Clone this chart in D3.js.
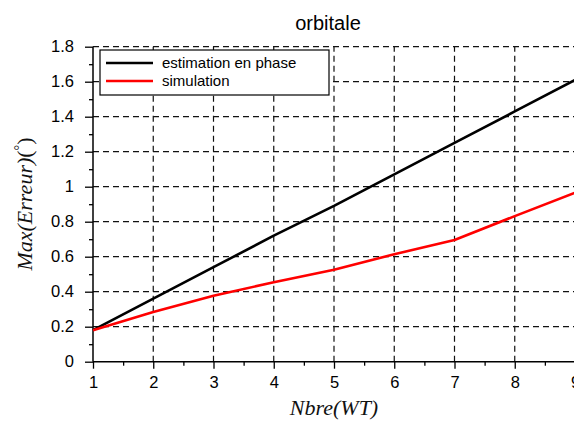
<!DOCTYPE html>
<html><head><meta charset="utf-8">
<script src="https://cdn.jsdelivr.net/npm/d3@7"></script>
<style>body{margin:0;background:#fff}svg{display:block}</style>
</head><body>
<script>
const nbre = [1, 2, 3, 4, 5, 6, 7, 8, 9];
const estimation = [0.18, 0.36, 0.54, 0.72, 0.89, 1.07, 1.25, 1.43, 1.61];
const simulation = [0.18, 0.284, 0.377, 0.454, 0.526, 0.614, 0.695, 0.832, 0.965];
const xTicks = [1, 2, 3, 4, 5, 6, 7, 8, 9];
const yTicks = [0, 0.2, 0.4, 0.6, 0.8, 1, 1.2, 1.4, 1.6, 1.8];
const yTickLabels = ["0", "0.2", "0.4", "0.6", "0.8", "1", "1.2", "1.4", "1.6", "1.8"];
const seriesNames = ["estimation en phase", "simulation"];
const seriesColors = ["#000000", "#ff0000"];

const W = 574, H = 423;
const svg = d3.select("body").append("svg").attr("width", W).attr("height", H);
const x = d3.scaleLinear().domain([1, 9]).range([93, 575]);
const y = d3.scaleLinear().domain([0, 1.8]).range([361.7, 46.7]);
const sans = "Liberation Sans, Arial, sans-serif";
const serif = "Liberation Serif, Times New Roman, serif";

// grid
const grid = svg.append("g").attr("stroke", "#111").attr("stroke-width", 1.2).attr("stroke-dasharray", "6,4");
grid.selectAll(".gx").data(xTicks.slice(1)).enter().append("line")
  .attr("x1", d => x(d)).attr("x2", d => x(d)).attr("y1", y(0)).attr("y2", y(1.8));
grid.selectAll(".gy").data(yTicks.slice(1)).enter().append("line")
  .attr("y1", d => y(d)).attr("y2", d => y(d)).attr("x1", x(1)).attr("x2", W);

// axes
const xAxis = d3.axisBottom(x).tickValues(xTicks).tickSize(7).tickPadding(8).tickFormat(d3.format("d"));
const gx = svg.append("g").attr("transform", `translate(0,${y(0)})`).call(xAxis);
const xMinor = d3.axisBottom(x).tickValues(d3.range(1.5, 9, 1)).tickSize(4).tickFormat("");
svg.append("g").attr("transform", `translate(0,${y(0)})`).call(xMinor).select(".domain").remove();
const yAxis = d3.axisLeft(y).tickValues(yTicks).tickSize(8).tickPadding(11).tickFormat((d, i) => yTickLabels[i]);
const gy = svg.append("g").attr("transform", `translate(${x(1)},0)`).call(yAxis);
const yMinor = d3.axisLeft(y).tickValues(d3.range(0.1, 1.8, 0.2)).tickSize(4).tickFormat("");
svg.append("g").attr("transform", `translate(${x(1)},0)`).call(yMinor).select(".domain").remove();
svg.selectAll(".domain").attr("stroke", "#000").attr("stroke-width", 1.5);
svg.selectAll(".tick line").attr("stroke", "#000").attr("stroke-width", 1.3);
svg.selectAll(".tick text").attr("font-family", sans).attr("font-size", 16.5).attr("fill", "#000");
gx.select(".domain").attr("d", `M${x(1)},0H${W}`);
gy.select(".domain").attr("d", `M0,${y(0)}V${y(1.8)}`);

// lines
const line = d3.line().x((d, i) => x(nbre[i])).y(d => y(d));
[estimation, simulation].forEach((s, k) => {
  svg.append("path").datum(s).attr("d", line).attr("fill", "none")
    .attr("stroke", seriesColors[k]).attr("stroke-width", 2.6).attr("stroke-linejoin", "round");
});

// legend
const lg = svg.append("g");
lg.append("rect").attr("x", 100).attr("y", 50).attr("width", 229).attr("height", 45)
  .attr("fill", "#fff").attr("stroke", "#000").attr("stroke-width", 1.2);
seriesNames.forEach((n, i) => {
  const yy = 63 + i * 18;
  lg.append("line").attr("x1", 106).attr("x2", 153).attr("y1", yy).attr("y2", yy)
    .attr("stroke", seriesColors[i]).attr("stroke-width", 2.6);
  lg.append("text").attr("x", 162).attr("y", yy + 5).text(n)
    .attr("font-family", sans).attr("font-size", 15).attr("fill", "#000");
});

// title
svg.append("text").attr("x", 328).attr("y", 30).attr("text-anchor", "middle")
  .attr("font-family", sans).attr("font-size", 20).text("orbitale");

// x label
svg.append("text").attr("x", 334).attr("y", 415).attr("text-anchor", "middle")
  .attr("font-family", serif).attr("font-style", "italic").attr("font-size", 22).attr("fill", "#111").text("Nbre(WT)");

// y label
const yl = svg.append("text").attr("transform", "translate(32,204) rotate(-90)").attr("text-anchor", "middle")
  .attr("font-family", serif).attr("font-size", 22).attr("fill", "#111");
yl.append("tspan").attr("font-style", "italic").text("Max(Erreur)");
yl.append("tspan").text("(");
yl.append("tspan").attr("font-size", 14).attr("dy", -8).text("°");
yl.append("tspan").attr("dy", 8).text(")");
</script>
</body></html>
